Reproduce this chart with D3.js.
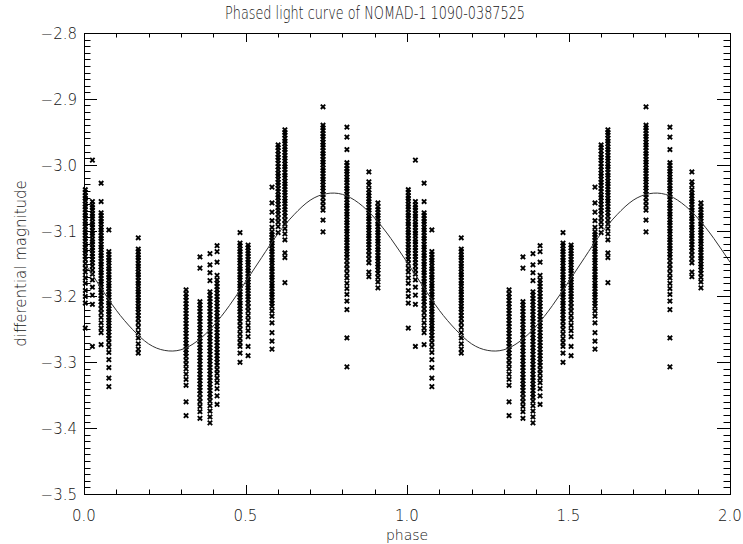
<!DOCTYPE html>
<html>
<head>
<meta charset="utf-8">
<script src="https://cdn.jsdelivr.net/npm/d3@7"></script>
<style>
  html, body { margin: 0; padding: 0; background: #fff; }
  svg text { font-family: "DejaVu Sans", "Liberation Sans", sans-serif; font-weight: 200; fill: #111; opacity: 0.99; }
</style>
</head>
<body>
<svg id="chart" width="743" height="544"></svg>
<script>
// ---------------- DATA ----------------
const titleText = "Phased light curve of NOMAD-1 1090-0387525";
const xLabel = "phase";
const yLabel = "differential magnitude";
const xTickValues = [0.0, 0.5, 1.0, 1.5, 2.0];
const xTickLabels = ["0.0", "0.5", "1.0", "1.5", "2.0"];
const yTickValues = [-2.8, -2.9, -3.0, -3.1, -3.2, -3.3, -3.4, -3.5];
const yTickLabels = ["\u22122.8", "\u22122.9", "\u22123.0", "\u22123.1", "\u22123.2", "\u22123.3", "\u22123.4", "\u22123.5"];

// phase of each observing run (one vertical strip each), phase 0..1
const runPhases = [0.004, 0.026, 0.053, 0.077, 0.168, 0.316, 0.359, 0.390, 0.412,
                   0.483, 0.508, 0.582, 0.601, 0.622, 0.740, 0.814, 0.882, 0.910];

// differential magnitudes of each run
const magsA = [-3.038,-3.042,-3.047,-3.051,-3.055,-3.060,-3.064,-3.068,-3.073,-3.077,-3.081,-3.086,-3.090,-3.094,-3.099,-3.103,-3.107,-3.112,-3.116,-3.121,-3.125,-3.130,-3.134,-3.139,-3.144,-3.150,-3.157,-3.163,-3.172,-3.180,-3.191,-3.200,-3.210,-3.248];
const magsB = [-2.993,-3.056,-3.061,-3.065,-3.069,-3.074,-3.078,-3.082,-3.087,-3.091,-3.095,-3.100,-3.104,-3.108,-3.113,-3.117,-3.121,-3.126,-3.130,-3.135,-3.139,-3.144,-3.149,-3.154,-3.160,-3.166,-3.175,-3.186,-3.198,-3.212,-3.276];
const magsC = [-3.028,-3.056,-3.073,-3.077,-3.082,-3.086,-3.090,-3.095,-3.099,-3.103,-3.108,-3.112,-3.116,-3.121,-3.125,-3.129,-3.134,-3.138,-3.142,-3.147,-3.151,-3.155,-3.160,-3.164,-3.168,-3.173,-3.177,-3.181,-3.186,-3.190,-3.194,-3.199,-3.203,-3.208,-3.213,-3.219,-3.225,-3.232,-3.240,-3.248,-3.255,-3.273];
const magsD = [-3.099,-3.132,-3.136,-3.141,-3.145,-3.149,-3.154,-3.158,-3.162,-3.167,-3.171,-3.175,-3.180,-3.184,-3.188,-3.193,-3.197,-3.201,-3.206,-3.210,-3.214,-3.219,-3.223,-3.227,-3.232,-3.236,-3.240,-3.245,-3.249,-3.254,-3.259,-3.264,-3.270,-3.277,-3.285,-3.296,-3.308,-3.324,-3.337];
const magsE = [-3.111,-3.128,-3.132,-3.137,-3.141,-3.145,-3.150,-3.154,-3.158,-3.163,-3.167,-3.171,-3.176,-3.180,-3.184,-3.189,-3.193,-3.197,-3.202,-3.206,-3.210,-3.215,-3.219,-3.224,-3.229,-3.234,-3.240,-3.247,-3.255,-3.263,-3.272,-3.280,-3.286];
const magsF = [-3.190,-3.196,-3.201,-3.206,-3.211,-3.216,-3.221,-3.226,-3.231,-3.236,-3.241,-3.246,-3.251,-3.256,-3.261,-3.266,-3.271,-3.276,-3.281,-3.286,-3.291,-3.297,-3.303,-3.310,-3.318,-3.326,-3.335,-3.360,-3.381];
const magsG = [-3.140,-3.157,-3.208,-3.213,-3.218,-3.223,-3.228,-3.233,-3.238,-3.243,-3.248,-3.253,-3.258,-3.263,-3.268,-3.273,-3.278,-3.283,-3.288,-3.293,-3.298,-3.303,-3.308,-3.313,-3.318,-3.323,-3.328,-3.333,-3.338,-3.343,-3.348,-3.354,-3.360,-3.367,-3.375,-3.385];
const magsH = [-3.135,-3.152,-3.164,-3.176,-3.193,-3.198,-3.203,-3.208,-3.213,-3.218,-3.223,-3.228,-3.233,-3.238,-3.243,-3.248,-3.253,-3.258,-3.263,-3.268,-3.273,-3.278,-3.283,-3.288,-3.293,-3.298,-3.303,-3.308,-3.313,-3.318,-3.323,-3.328,-3.333,-3.338,-3.343,-3.348,-3.353,-3.359,-3.366,-3.374,-3.383,-3.392];
const magsI = [-3.123,-3.132,-3.148,-3.168,-3.175,-3.180,-3.185,-3.190,-3.195,-3.200,-3.205,-3.210,-3.215,-3.220,-3.225,-3.230,-3.235,-3.240,-3.245,-3.250,-3.255,-3.260,-3.265,-3.270,-3.275,-3.280,-3.285,-3.290,-3.295,-3.300,-3.305,-3.311,-3.317,-3.324,-3.331,-3.340,-3.351,-3.364];
const magsJ = [-3.103,-3.119,-3.123,-3.128,-3.132,-3.136,-3.141,-3.145,-3.149,-3.154,-3.158,-3.162,-3.167,-3.171,-3.175,-3.180,-3.184,-3.188,-3.193,-3.197,-3.201,-3.206,-3.210,-3.214,-3.219,-3.223,-3.228,-3.233,-3.238,-3.244,-3.250,-3.257,-3.264,-3.270,-3.276,-3.286,-3.300];
const magsK = [-3.122,-3.126,-3.131,-3.135,-3.139,-3.144,-3.148,-3.152,-3.157,-3.161,-3.165,-3.170,-3.174,-3.178,-3.183,-3.187,-3.191,-3.196,-3.200,-3.205,-3.210,-3.216,-3.222,-3.229,-3.236,-3.244,-3.252,-3.261,-3.276,-3.290];
const magsL = [-3.034,-3.058,-3.072,-3.085,-3.095,-3.102,-3.106,-3.110,-3.115,-3.119,-3.123,-3.128,-3.132,-3.136,-3.141,-3.145,-3.149,-3.154,-3.158,-3.162,-3.167,-3.171,-3.175,-3.180,-3.184,-3.188,-3.193,-3.197,-3.201,-3.206,-3.210,-3.215,-3.222,-3.230,-3.240,-3.255,-3.268,-3.280];
const magsM = [-2.970,-2.974,-2.979,-2.984,-2.989,-2.993,-2.998,-3.003,-3.008,-3.013,-3.017,-3.022,-3.027,-3.031,-3.036,-3.041,-3.046,-3.050,-3.055,-3.060,-3.065,-3.070,-3.075,-3.081,-3.087,-3.094,-3.103];
const magsN = [-2.947,-2.951,-2.955,-2.960,-2.964,-2.968,-2.973,-2.977,-2.981,-2.986,-2.990,-2.994,-2.999,-3.003,-3.007,-3.012,-3.016,-3.020,-3.025,-3.029,-3.033,-3.038,-3.042,-3.046,-3.051,-3.055,-3.059,-3.064,-3.068,-3.073,-3.078,-3.084,-3.090,-3.097,-3.105,-3.114,-3.134,-3.141,-3.179];
const magsO = [-2.912,-2.940,-2.944,-2.948,-2.953,-2.957,-2.961,-2.966,-2.970,-2.974,-2.979,-2.983,-2.987,-2.992,-2.996,-3.000,-3.005,-3.009,-3.013,-3.018,-3.022,-3.026,-3.031,-3.035,-3.040,-3.045,-3.050,-3.056,-3.062,-3.069,-3.084,-3.102];
const magsP = [-2.943,-2.958,-2.977,-2.997,-3.001,-3.006,-3.010,-3.014,-3.019,-3.023,-3.027,-3.032,-3.036,-3.040,-3.045,-3.049,-3.053,-3.058,-3.062,-3.066,-3.071,-3.075,-3.079,-3.084,-3.088,-3.092,-3.097,-3.101,-3.105,-3.110,-3.114,-3.118,-3.123,-3.127,-3.131,-3.136,-3.140,-3.146,-3.152,-3.158,-3.165,-3.172,-3.180,-3.188,-3.197,-3.207,-3.220,-3.263,-3.307];
const magsQ = [-3.011,-3.026,-3.031,-3.038,-3.043,-3.047,-3.052,-3.056,-3.060,-3.065,-3.069,-3.073,-3.078,-3.082,-3.086,-3.091,-3.095,-3.099,-3.104,-3.108,-3.112,-3.117,-3.121,-3.126,-3.131,-3.137,-3.143,-3.149,-3.163,-3.170];
const magsR = [-3.058,-3.064,-3.068,-3.073,-3.077,-3.081,-3.086,-3.090,-3.094,-3.099,-3.103,-3.107,-3.112,-3.116,-3.120,-3.125,-3.129,-3.133,-3.138,-3.142,-3.146,-3.151,-3.155,-3.160,-3.165,-3.171,-3.178,-3.187];

const runMags = [magsA, magsB, magsC, magsD, magsE, magsF, magsG, magsH, magsI,
                 magsJ, magsK, magsL, magsM, magsN, magsO, magsP, magsQ, magsR];

// fitted sinusoid at phase steps of 0.05 over one cycle
const fitPhases = [0.00,0.05,0.10,0.15,0.20,0.25,0.30,0.35,0.40,0.45,0.50,0.55,0.60,0.65,0.70,0.75,0.80,0.85,0.90,0.95,1.00];
const fitMags = [-3.148,-3.185,-3.221,-3.250,-3.272,-3.282,-3.281,-3.268,-3.245,-3.214,-3.178,-3.141,-3.105,-3.076,-3.054,-3.044,-3.045,-3.058,-3.081,-3.112,-3.148];

// ---------------- LAYOUT ----------------
const W = 743, H = 544;
const plot = { left: 84, right: 730, top: 33, bottom: 494 };

const svg = d3.select("#chart");
svg.append("rect").attr("width", W).attr("height", H).attr("fill", "#fff");

const x = d3.scaleLinear().domain([0, 2]).range([plot.left, plot.right]);
const y = d3.scaleLinear().domain([-3.5, -2.8]).range([plot.bottom, plot.top]);

// points (phased data plotted twice: phase and phase+1)
const pts = [];
[0, 1].forEach(cycle => {
  runPhases.forEach((ph, i) => {
    runMags[i].forEach(m => pts.push({ p: ph + cycle, m }));
  });
});

const g = svg.append("g");
g.selectAll("path.pt").data(pts).enter().append("path")
  .attr("class", "pt")
  .attr("d", d => {
    const cx = x(d.p), cy = y(d.m), s = 2.2;
    return `M${cx - s},${cy - s}L${cx + s},${cy + s}M${cx - s},${cy + s}L${cx + s},${cy - s}`;
  })
  .attr("stroke", "#000").attr("stroke-width", 1.9).attr("fill", "none");

// fit curve over two cycles
const fitPts = [];
[0, 1].forEach(cycle => fitPhases.forEach((p, i) => {
  if (cycle === 1 && i === 0) return;
  fitPts.push({ p: p + cycle, m: fitMags[i] });
}));
svg.append("path").datum(fitPts)
  .attr("d", d3.line().x(d => x(d.p)).y(d => y(d.m)).curve(d3.curveNatural))
  .attr("fill", "none").attr("stroke", "#333").attr("stroke-width", 1);

// ticks
const tickG = svg.append("g").attr("stroke", "#000").attr("stroke-width", 1);
function isMajor(v, step) { return Math.abs(v / step - Math.round(v / step)) < 1e-6; }

// x ticks (bottom and top, inward)
x.ticks(20).forEach(v => {
  const len = isMajor(v, 0.5) ? 9 : 4.5;
  const xx = Math.round(x(v)) + 0.5;
  tickG.append("line").attr("x1", xx).attr("x2", xx).attr("y1", plot.bottom).attr("y2", plot.bottom - len);
  tickG.append("line").attr("x1", xx).attr("x2", xx).attr("y1", plot.top).attr("y2", plot.top + len);
});
// y ticks (left and right, inward)
y.ticks(70).forEach(v => {
  const len = isMajor(v, 0.1) ? 13 : 6.5;
  const yy = Math.round(y(v)) + 0.5;
  tickG.append("line").attr("x1", plot.left).attr("x2", plot.left + len).attr("y1", yy).attr("y2", yy);
  tickG.append("line").attr("x1", plot.right).attr("x2", plot.right - len).attr("y1", yy).attr("y2", yy);
});

// frame
svg.append("rect")
  .attr("x", plot.left + 0.5).attr("y", plot.top + 0.5)
  .attr("width", plot.right - plot.left).attr("height", plot.bottom - plot.top)
  .attr("fill", "none").attr("stroke", "#000").attr("stroke-width", 1);

// tick labels
svg.append("g").selectAll("text").data(xTickValues).enter().append("text")
  .attr("x", d => x(d)).attr("y", plot.bottom + 27)
  .attr("text-anchor", "middle").attr("font-size", 15)
  .text((d, i) => xTickLabels[i]);
svg.append("g").selectAll("text").data(yTickValues).enter().append("text")
  .attr("x", plot.left - 7).attr("y", d => y(d) + 6)
  .attr("text-anchor", "end").attr("font-size", 15)
  .text((d, i) => yTickLabels[i]);

// titles
svg.append("text").attr("x", 375).attr("y", 19)
  .attr("text-anchor", "middle").attr("font-size", 17)
  .attr("textLength", 300).attr("lengthAdjust", "spacingAndGlyphs")
  .text(titleText);
svg.append("text").attr("x", (plot.left + plot.right) / 2).attr("y", 540)
  .attr("text-anchor", "middle").attr("font-size", 14).text(xLabel);
svg.append("text")
  .attr("transform", `translate(26,${(plot.top + plot.bottom) / 2}) rotate(-90)`)
  .attr("text-anchor", "middle").attr("font-size", 15).text(yLabel);
</script>
</body>
</html>
